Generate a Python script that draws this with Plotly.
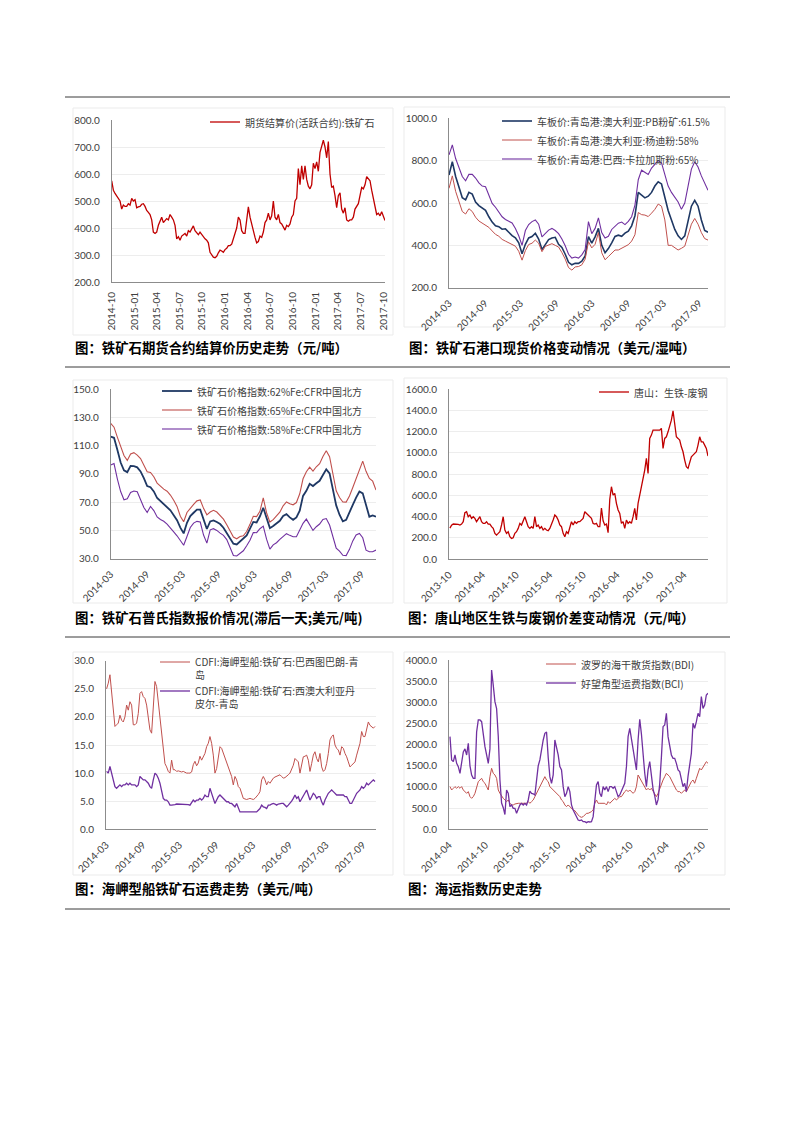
import pandas as pd
import plotly.graph_objects as go

W, H = 793, 1122


def fx(p):
    return p / W


def fy(p):
    return 1 - p / H


CJK = "Noto Sans CJK SC"
NUMF = "Lato, Noto Sans CJK SC"
RED_DARK = "#c00000"
NAVY = "#1f3864"
RED = "#c0504d"
PURPLE = "#7030a0"

# ---------------- chart 1 : futures settlement price ----------------
c1_title = "图：铁矿石期货合约结算价历史走势（元/吨）"
c1_name = "期货结算价(活跃合约):铁矿石"
c1_start, c1_end = "2014-10-01", "2017-10-08"
c1_vals = [
    575, 540, 528, 520, 510, 500, 470, 485, 480, 480,
    490, 485, 510, 500, 505, 475, 478, 480, 488, 490,
    480, 465, 458, 450, 430, 385, 380, 385, 410, 425,
    440, 420, 430, 435, 430, 450, 440, 430, 410, 360,
    368, 355, 370, 375, 380, 370, 390, 385, 400, 408,
    390, 380, 375, 385, 375, 365, 360, 355, 345, 310,
    298, 292, 290, 295, 308, 318, 315, 310, 320, 325,
    335, 335, 340, 360, 380, 400, 440, 430, 390, 380,
    380, 440, 478, 440, 410, 390, 365, 345, 350, 370,
    365, 385, 420, 430, 455, 430, 445, 500, 440, 430,
    450, 420, 415, 400, 392, 410, 405, 415, 440, 450,
    500, 510, 620, 560, 630, 580, 630, 580, 555, 545,
    560, 640, 620, 645, 610, 680, 700, 725, 700, 660,
    720, 600, 550, 555, 520, 475, 520, 530, 470, 455,
    475, 430, 425, 430, 430, 440, 470, 480, 490, 520,
    550, 545, 560, 590, 580, 575, 540, 510, 470, 450,
    455, 445, 460, 440, 428,
]

# ---------------- chart 2 : port spot prices ----------------
c2_title = "图：铁矿石港口现货价格变动情况（美元/湿吨）"
c2_names = ["车板价:青岛港:澳大利亚:PB粉矿:61.5%",
            "车板价:青岛港:澳大利亚:杨迪粉:58%",
            "车板价:青岛港:巴西:卡拉加斯粉:65%"]
c2_start, c2_end = "2014-03-01", "2017-10-16"
c2_pb = [
    732, 795, 725, 675, 625, 615, 650, 642, 605, 588,
    578, 565, 535, 510, 492, 488, 476, 478, 462, 446,
    436, 412, 360, 405, 435, 442, 457, 430, 380, 405,
    427, 435, 438, 405, 390, 358, 320, 308, 315, 315,
    325, 350, 441, 410, 440, 480, 400, 365, 385, 412,
    442, 448, 443, 458, 467, 492, 540, 650, 635, 624,
    632, 650, 680, 700, 690, 630, 565, 520, 475, 445,
    428, 445, 515, 585, 612, 585, 520, 470, 462,
]
c2_yandi = [
    669, 728, 655, 605, 560, 548, 573, 560, 533, 515,
    506, 498, 485, 468, 452, 443, 428, 420, 411, 404,
    396, 372, 330, 375, 404, 410, 425, 410, 370, 395,
    402, 408, 400, 392, 366, 335, 295, 283, 298, 300,
    308, 335, 417, 388, 405, 460, 365, 332, 347, 364,
    378, 378, 387, 395, 403, 420, 450, 555, 545, 543,
    536, 552, 570, 595, 585, 520, 400, 400, 388, 378,
    386, 396, 448, 500, 527, 500, 460, 432, 425,
]
c2_carajas = [
    827, 874, 810, 765, 725, 705, 735, 735, 718, 695,
    680, 677, 635, 598, 580, 558, 535, 522, 515, 506,
    480, 445, 400, 470, 498, 512, 520, 500, 440, 458,
    472, 480, 470, 455, 430, 398, 358, 340, 345, 340,
    355, 380, 512, 455, 480, 530, 460, 435, 443, 475,
    490, 505, 510, 498, 513, 535, 590, 710, 755, 746,
    735, 765, 785, 800, 790, 740, 680, 650, 628, 605,
    570, 600, 680, 760, 795, 770, 728, 695, 660,
]

# ---------------- chart 3 : Platts index ----------------
c3_title = "图：铁矿石普氏指数报价情况(滞后一天;美元/吨)"
c3_names = ["铁矿石价格指数:62%Fe:CFR中国北方",
            "铁矿石价格指数:65%Fe:CFR中国北方",
            "铁矿石价格指数:58%Fe:CFR中国北方"]
c3_start, c3_end = "2014-03-01", "2017-11-13"
c3_62 = [
    116.3, 115.5, 107, 98, 92.5, 91.2, 95.6, 95.4, 94.6, 91.7,
    87, 81.4, 80.5, 77.6, 72.9, 70.7, 68.6, 67, 64.2, 60.8,
    57.2, 52, 47.9, 55.4, 60.2, 62.5, 64.7, 64.7, 58.5, 51,
    56.3, 57.1, 55.9, 54.5, 51.9, 48.1, 43.6, 40.6, 40.1, 42.2,
    43.7, 46.4, 51.2, 56, 55.6, 60, 66, 58.8, 51.6, 53.1,
    55.2, 56.8, 60.2, 61.5, 59.2, 57.5, 59.2, 64, 74.4, 78,
    83, 81.4, 83.3, 85.1, 89.2, 93.2, 90.3, 78.3, 67.7, 61.1,
    56.4, 57.5, 63.4, 68.1, 73.2, 77.5, 76.2, 67.4, 59.7, 60.6,
    59.7,
]
c3_65 = [
    125.7, 123, 116, 110, 103, 99.5, 104, 105, 103.3, 100.8,
    96.5, 91.5, 91, 88, 83.5, 81.2, 79.2, 77.7, 75, 71.3,
    67, 60, 56.1, 62.7, 66, 68.4, 70.9, 71.5, 65.6, 61,
    63, 64.2, 63, 60.4, 58, 54, 49.3, 45.3, 44.1, 45.7,
    46.2, 49.2, 54.3, 60, 59.8, 63.5, 73, 62.5, 55.9, 57.6,
    60.2, 62.9, 67.4, 70.1, 68.9, 68.1, 69.7, 75.9, 86.5, 91.5,
    94.7, 92, 95, 97.2, 102.2, 106.3, 102.1, 90, 78, 73.3,
    70.1, 70, 74.4, 80.3, 86.2, 92.9, 99, 91.8, 86.8, 84.8,
    78.5,
]
c3_58 = [
    96.2, 97.3, 86.5, 77.5, 71.7, 72.4, 76.8, 77.9, 77.4, 72.4,
    66.2, 62.7, 67, 64, 59.5, 57.7, 56.5, 54.5, 52.1, 49,
    46.2, 43, 39.5, 45.7, 52.1, 55.2, 56.4, 55.9, 46.7, 41,
    50.4, 51.2, 50, 48.1, 46.5, 43.5, 37.9, 32.3, 31.9, 33.9,
    35.6, 39.1, 43, 48.5, 48.4, 51.2, 53, 43.8, 36.8, 39.8,
    41.3, 43.7, 46, 47.7, 46.5, 45.5, 45.5, 49.8, 55, 58,
    54.4, 50, 52.6, 54.5, 57.8, 58.4, 53.8, 45.8, 37.4, 35.3,
    32.4, 32.2, 36.6, 42.6, 46.8, 47.9, 44.8, 36, 34.9, 34.9,
    36.1,
]

# ---------------- chart 4 : Tangshan pig iron - scrap ----------------
c4_title = "图：唐山地区生铁与废钢价差变动情况（元/吨）"
c4_name = "唐山：生铁-废钢"
c4_start, c4_end = "2013-10-06", "2017-08-10"
c4_vals = [
    290, 318, 329, 329, 329, 325, 320, 329, 351, 436,
    445, 398, 414, 382, 398, 382, 351, 382, 398, 351,
    335, 335, 351, 329, 329, 304, 288, 241, 226, 241,
    257, 320, 398, 273, 241, 257, 210, 194, 200, 241,
    257, 288, 335, 320, 367, 398, 351, 304, 288, 304,
    288, 398, 304, 320, 288, 304, 273, 288, 273, 266,
    288, 320, 367, 414, 398, 367, 320, 304, 241, 210,
    257, 241, 304, 351, 320, 351, 335, 351, 351, 367,
    382, 445, 429, 414, 398, 382, 335, 329, 335, 304,
    304, 480, 360, 320, 330, 248, 560, 680, 602, 618,
    524, 461, 429, 335, 351, 288, 367, 335, 351, 335,
    398, 476, 367, 524, 602, 680, 743, 837, 947, 806,
    1135, 1166, 1213, 1213, 1213, 1207, 1213, 1229, 1041, 1135,
    1150, 1197, 1245, 1307, 1395, 1292, 1150, 1135, 1119, 1056,
    1009, 931, 868, 853, 900, 962, 978, 994, 1009, 1072,
    1150, 1103, 1103, 1072, 1041, 969,
]

# ---------------- chart 5 : capesize freight ----------------
c5_title = "图：海岬型船铁矿石运费走势（美元/吨）"
c5_names = ["CDFI:海岬型船:铁矿石:巴西图巴朗-青<br>岛",
            "CDFI:海岬型船:铁矿石:西澳大利亚丹<br>皮尔-青岛"]
c5_start, c5_end = "2014-03-04", "2017-11-01"
c5_brazil = [
    25, 26, 27.5, 24.2, 20.6, 18.3, 18.6, 18.9, 20.3, 19.4,
    19.1, 20, 22.1, 21.2, 22.7, 22.1, 18.6, 18.6, 18.9, 20.6,
    24.2, 24.5, 23.6, 23.3, 22.1, 20, 17.7, 17.1, 21.5, 26.3,
    25.4, 22.7, 19.4, 16.5, 14.1, 11.7, 11.1, 10.3, 10, 12.3,
    10.6, 10.6, 10.3, 10.4, 10.3, 10.2, 10.3, 10.1, 10, 10,
    10, 10.2, 11.5, 12.1, 11.3, 11.8, 13, 12.3, 12.9, 13.5,
    14.7, 15.3, 16.5, 15.3, 13.2, 10, 10.8, 12.9, 14.7, 14.4,
    13.5, 12.9, 11.7, 11.1, 10.3, 9.4, 7.9, 9.4, 8.8, 7.6,
    7.3, 6.4, 5.5, 5.4, 5.3, 5.4, 5.5, 5.4, 5.3, 5.5,
    5.8, 6.2, 6.7, 8.8, 9.4, 8.8, 7.9, 8.5, 8.2, 8.7,
    9.1, 9.3, 9.4, 9.5, 9.7, 9.4, 9.1, 9.2, 9.4, 9.7,
    10, 10.7, 11.4, 12.6, 12.3, 12, 10, 11.7, 12.9, 13,
    13.2, 12.3, 10.3, 11.7, 13.2, 13.8, 12.6, 12, 13.5, 11.1,
    10.3, 10.6, 11.7, 13.5, 15.9, 16.5, 16.8, 15, 14.4, 14.1,
    13.2, 14.7, 14.4, 13.5, 12.9, 12, 11.1, 11.4, 11.7, 12,
    13.2, 14.1, 15.3, 17.4, 16.5, 16.5, 18, 19.1, 18.5, 18.3,
    18, 18.3,
]
c5_australia = [
    10.3, 10, 11.2, 10, 9.1, 7.6, 7.3, 7.6, 7.9, 7.6,
    7.9, 7.9, 8.2, 7.9, 8.2, 7.9, 7.9, 7.9, 7.6, 7.9,
    9.4, 9.1, 8.8, 8.8, 8.5, 8.2, 7.6, 7.3, 8.8, 10,
    9.7, 9.1, 8.2, 7, 5.5, 5.2, 5.2, 4.9, 4.3, 4.3,
    4.3, 4.4, 4.5, 4.5, 4.5, 4.5, 4.5, 4.5, 4.5, 4.4,
    4.3, 4.7, 5.2, 4.9, 5.2, 5.2, 5.5, 5.2, 5.5, 6.1,
    5.8, 5.8, 7.3, 6.4, 5.5, 4.6, 5.2, 5.8, 6.1, 5.8,
    5.5, 5.2, 4.9, 4.9, 4.6, 4.6, 4.3, 4, 4.6, 3.7,
    3.1, 3.1, 3.1, 3.1, 3.1, 3, 3, 3, 3, 3,
    3.1, 3.4, 3.7, 4.3, 4, 3.9, 3.7, 4.3, 4.3, 4.5,
    4.6, 4.5, 4.3, 4.5, 4.6, 4.6, 4.6, 4.3, 4, 4.3,
    4.6, 5, 5.5, 6.1, 5.5, 5.8, 4.9, 5.5, 6.1, 6.7,
    7, 6.1, 5.2, 5.8, 6.4, 6.1, 5.5, 5.8, 5.8, 4.9,
    4.3, 5.2, 5.8, 6.4, 6.7, 7, 6.7, 6.4, 6.1, 6.1,
    6.1, 6.1, 6.1, 5.8, 5.8, 5.2, 4.6, 4.6, 5.2, 5.8,
    6.4, 6.7, 7, 7.6, 7.3, 7.6, 8.2, 7.9, 8.2, 8.5,
    8.8, 8.5,
]

# ---------------- chart 6 : shipping indices ----------------
c6_title = "图：海运指数历史走势"
c6_names = ["波罗的海干散货指数(BDI)", "好望角型运费指数(BCI)"]
c6_start, c6_end = "2014-04-06", "2017-10-30"
c6_bdi = [
    1008, 929, 969, 1008, 969, 1008, 969, 1008, 929, 890,
    850, 890, 772, 732, 772, 850, 1008, 1126, 1165, 1205,
    1126, 1087, 1008, 929, 1244, 1441, 1323, 1283, 1205, 929,
    850, 772, 732, 693, 654, 693, 614, 575, 575, 598,
    614, 614, 614, 614, 598, 614, 614, 654, 614, 654,
    693, 772, 850, 929, 1008, 1087, 1165, 1244, 1165, 1126,
    1008, 969, 929, 890, 850, 811, 772, 693, 654, 575,
    535, 575, 535, 496, 457, 441, 378, 339, 299, 283,
    299, 339, 378, 378, 394, 417, 457, 614, 693, 614,
    614, 614, 598, 614, 575, 654, 614, 654, 693, 732,
    693, 732, 772, 772, 850, 890, 929, 890, 929, 890,
    850, 890, 1008, 1283, 1205, 1165, 1087, 1008, 929, 969,
    929, 969, 890, 850, 772, 850, 969, 1087, 1165, 1244,
    1323, 1283, 1244, 1165, 1087, 1008, 929, 890, 890, 850,
    890, 929, 890, 969, 1047, 1126, 1165, 1087, 1205, 1323,
    1441, 1402, 1480, 1520, 1598, 1559,
]
c6_bci = [
    2189, 1638, 1598, 1756, 1559, 1480, 1323, 1559, 1830, 1900,
    1756, 2031, 1500, 1280, 1205, 1205, 2300, 2583, 2583, 2543,
    2189, 1953, 1756, 1559, 1900, 3764, 3400, 3016, 2850, 2200,
    1165, 620, 510, 350, 929, 850, 535, 575, 496, 496,
    378, 496, 575, 614, 575, 614, 575, 693, 900, 850,
    840, 811, 1165, 1500, 1640, 1900, 2110, 2268, 2300, 1700,
    1244, 1087, 1283, 2110, 1950, 1760, 1480, 1402, 1008, 772,
    850, 1008, 890, 575, 457, 378, 299, 220, 205, 220,
    181, 181, 157, 181, 173, 181, 299, 732, 1047, 1126,
    850, 772, 1008, 929, 1008, 890, 1008, 1008, 969, 1008,
    890, 772, 811, 890, 1008, 1087, 1480, 2189, 2386, 2110,
    1953, 1559, 1402, 2110, 2600, 2250, 1756, 1323, 1008, 1402,
    1600, 1250, 950, 790, 575, 700, 1080, 1700, 2425, 2465,
    2740, 2189, 1913, 1756, 1677, 1677, 1559, 1402, 1362, 1165,
    1008, 1087, 890, 1250, 1480, 1795, 2504, 2386, 2543, 2740,
    2661, 3134, 2858, 2937, 3173, 3213,
]


def dates(start, end, n):
    return pd.date_range(start, end, periods=n)


fig = go.Figure()
layout = dict(
    width=W, height=H, margin=dict(l=0, r=0, t=0, b=0, autoexpand=False),
    paper_bgcolor="white", plot_bgcolor="white",
    showlegend=True, font=dict(family=NUMF, size=10, color="#404040"),
)

charts = [
    dict(n=1, box=(111.7, 385, 120, 282), xr=["2014-10-01", "2017-10-08"], t0="2014-10-01",
         dt="M3", ang=-90, yr=[200, 800], ydt=100, leg=(210, 119), tit=(73, 347),
         frame=(73, 108, 393, 335), title=c1_title),
    dict(n=2, box=(449, 708, 118.3, 287.7), xr=["2014-03-01", "2017-10-16"], t0="2014-03-01",
         dt="M6", ang=-45, yr=[200, 1000], ydt=200, leg=(502, 118), tit=(407, 347),
         frame=(404, 107, 725, 327), title=c2_title),
    dict(n=3, box=(110.7, 376, 389, 558.7), xr=["2014-03-01", "2017-11-13"], t0="2014-03-01",
         dt="M6", ang=-45, yr=[30, 150], ydt=20, leg=(162, 388), tit=(73, 617),
         frame=(73, 380, 393, 603), title=c3_title),
    dict(n=4, box=(449, 708, 389, 559), xr=["2013-10-01", "2017-08-10"], t0="2013-10-01",
         dt="M6", ang=-45, yr=[0, 1600], ydt=200, leg=(599, 389), tit=(406, 617),
         frame=(404, 378, 727, 603), title=c4_title),
    dict(n=5, box=(106, 376, 660.7, 829.3), xr=["2014-03-01", "2017-11-06"], t0="2014-03-01",
         dt="M6", ang=-45, yr=[0, 30], ydt=5, leg=(160, 659), tit=(73, 888),
         frame=(73, 652, 393, 875), title=c5_title),
    dict(n=6, box=(449, 708, 660, 829.3), xr=["2014-04-01", "2017-10-30"], t0="2014-04-01",
         dt="M6", ang=-45, yr=[0, 4000], ydt=500, leg=(546, 661), tit=(406, 888),
         frame=(404, 652, 725, 875), title=c6_title),
]

series = {
    1: [(c1_name, c1_start, c1_end, c1_vals, RED_DARK, 1.3)],
    2: [(c2_names[0], c2_start, c2_end, c2_pb, NAVY, 1.6),
        (c2_names[1], c2_start, c2_end, c2_yandi, RED, 1.0),
        (c2_names[2], c2_start, c2_end, c2_carajas, PURPLE, 1.1)],
    3: [(c3_names[0], c3_start, c3_end, c3_62, NAVY, 1.8),
        (c3_names[1], c3_start, c3_end, c3_65, RED, 1.1),
        (c3_names[2], c3_start, c3_end, c3_58, PURPLE, 1.1)],
    4: [(c4_name, c4_start, c4_end, c4_vals, RED_DARK, 1.3)],
    5: [(c5_names[0], c5_start, c5_end, c5_brazil, RED, 1.0),
        (c5_names[1], c5_start, c5_end, c5_australia, PURPLE, 1.3)],
    6: [(c6_names[0], c6_start, c6_end, c6_bdi, RED, 1.0),
        (c6_names[1], c6_start, c6_end, c6_bci, PURPLE, 1.3)],
}

annotations = []
shapes = []
for c in charts:
    n = c["n"]
    sfx = "" if n == 1 else str(n)
    x0, x1, yt, yb = c["box"]
    leg_key = "legend" if n == 1 else f"legend{n}"
    layout["xaxis" + sfx] = dict(
        domain=[fx(x0), fx(x1)], anchor="y" + sfx, type="date", range=c["xr"],
        tick0=c["t0"], dtick=c["dt"], tickformat="%Y-%m", tickangle=c["ang"],
        showgrid=False, zeroline=False, showline=True, linecolor="#8c8c8c", linewidth=1,
        ticks="", ticklabelstandoff=5,
        tickfont=dict(family=NUMF, size=10, color="#404040"), fixedrange=True,
        automargin=False,
    )
    layout["yaxis" + sfx] = dict(
        domain=[fy(yb), fy(yt)], anchor="x" + sfx, range=c["yr"], tick0=c["yr"][0],
        dtick=c["ydt"], tickformat=".1f", showgrid=True, gridcolor="#ededed", gridwidth=1,
        zeroline=False, showline=True, linecolor="#8c8c8c", linewidth=1, ticks="",
        ticklabelstandoff=9,
        tickfont=dict(family=NUMF, size=10, color="#404040"), fixedrange=True,
        automargin=False,
    )
    lx, ly = c["leg"]
    layout[leg_key] = dict(
        x=fx(lx - 5), y=fy(ly - 10), xanchor="left", yanchor="top",
        bgcolor="rgba(0,0,0,0)", borderwidth=0, font=dict(family=CJK, size=10, color="#404040"),
        itemwidth=30, tracegroupgap=0, valign="top", traceorder="normal",
    )
    for name, s, e, vals, col, lw in series[n]:
        fig.add_trace(go.Scatter(
            x=dates(s, e, len(vals)), y=vals, name=name, mode="lines",
            line=dict(color=col, width=lw), xaxis="x" + sfx, yaxis="y" + sfx,
            legend=leg_key, hoverinfo="skip",
        ))
    tx, ty = c["tit"]
    annotations.append(dict(
        x=fx(tx), y=fy(ty), xref="paper", yref="paper", xanchor="left", yanchor="middle",
        text="<b>" + c["title"] + "</b>", showarrow=False,
        font=dict(family=CJK, size=13.4, color="#000000"),
    ))
    fx0, fy0, fx1, fy1 = c["frame"]
    shapes.append(dict(type="rect", xref="paper", yref="paper", x0=fx(fx0), x1=fx(fx1),
                       y0=fy(fy1), y1=fy(fy0), line=dict(color="#ebebeb", width=1), layer="below"))

for ry in [97, 367, 637, 909]:
    shapes.append(dict(type="line", xref="paper", yref="paper", x0=fx(65), x1=fx(730),
                       y0=fy(ry), y1=fy(ry), line=dict(color="#3a3a3a", width=1)))

layout["annotations"] = annotations
layout["shapes"] = shapes
fig.update_layout(**layout)

fig.write_html("out.html", config={"displayModeBar": False, "staticPlot": True},
               post_script="document.body.style.margin='0';document.body.style.overflow='hidden';")
